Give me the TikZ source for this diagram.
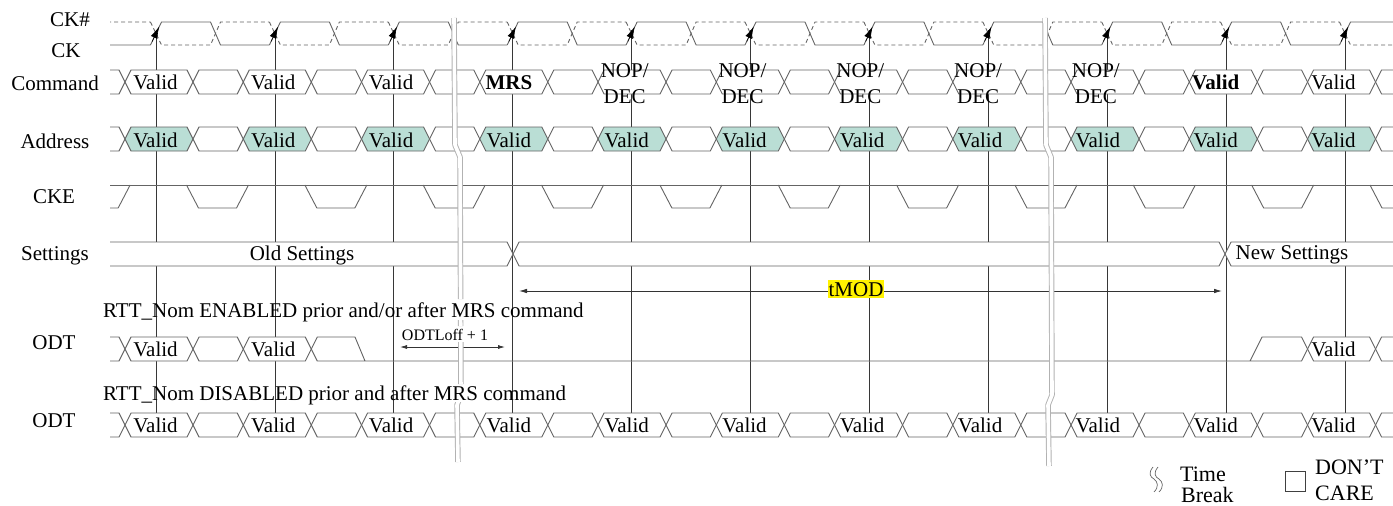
\documentclass[tikz,border=0pt]{standalone}
\usepackage{fontspec}
\setmainfont{Liberation Serif}
\usetikzlibrary{arrows.meta}
\definecolor{tealfill}{RGB}{186,222,213}
\definecolor{busline}{RGB}{100,100,100}
\definecolor{vline}{RGB}{55,55,55}
\tikzset{
  bsblank/.style={draw=busline, fill=white, line width=0.9pt, line join=round},
  bsvalid/.style={draw=busline, fill=white, line width=0.9pt, line join=round},
  bsteal/.style={draw=busline, fill=tealfill, line width=0.9pt, line join=round},
  busl/.style={draw=busline, line width=0.9pt, line join=round},
  vl/.style={draw=vline, line width=0.8pt},
  ckl/.style={draw=busline, line width=0.9pt, line join=round},
  ckd/.style={draw=busline, line width=0.9pt, dash pattern=on 4pt off 3pt},
  lbl/.style={inner sep=0pt, font=\fontsize{21}{25}\selectfont},
  sml/.style={inner sep=0pt, font=\fontsize{16}{19}\selectfont},
  leg/.style={inner sep=0pt, font=\fontsize{22}{26}\selectfont, anchor=base west},
  brk/.style={line join=round},
  arr/.style={draw=black!80, line width=0.8pt}
}
\newcommand\bseg[5]{%
  \pgfmathsetmacro\ym{(#3+#4)/2}%
  \path[#5] (#1,\ym) -- ({#1+6},#3) -- ({#2-6},#3) -- (#2,\ym) -- ({#2-6},#4) -- ({#1+6},#4) -- cycle;}
\newcommand\busrow[3]{%
  \bseg{60}{125}{#1}{#2}{bsblank}%
  \foreach \k in {0,...,10}{%
    \pgfmathsetmacro\c{156+118.9*\k}%
    \pgfmathsetmacro\ta{\c-31-0.65*\k}%
    \pgfmathsetmacro\tb{\c+37-0.65*\k}%
    \pgfmathsetmacro\tn{\c+118.9-31-0.65*(\k+1)}%
    \bseg{\ta}{\tb}{#1}{#2}{#3}%
    \bseg{\tb}{\tn}{#1}{#2}{bsblank}%
  }}
\begin{document}
\begin{tikzpicture}[x=1pt,y=-1pt]
\useasboundingbox (0,0) rectangle (1393,506);

% vertical clock-edge lines
\foreach \k in {0,...,10}{
  \pgfmathsetmacro\c{156+118.9*\k}
  \coordinate (v\k) at (\c,30);
  \draw[vl] (v\k) -- ++(0,390);
}

% clock
\begin{scope}
\clip (110,0) rectangle (1393,60);
\foreach \k in {-1,...,11}{
  \pgfmathsetmacro\c{156+118.9*\k}
  \draw[ckl] ({\c-5.5},45) -- ({\c+5.5},22) -- ({\c+54.5},22) -- ({\c+64.5},45) -- ({\c+113.4},45);
  \draw[ckd] ({\c-5.5},22) -- ({\c+5.5},45) -- ({\c+54.5},45) -- ({\c+64.5},22) -- ({\c+113.4},22);
}
\end{scope}
\foreach \k in {0,...,10}{
  \pgfmathsetmacro\c{156+118.9*\k}
  \draw[black, line width=0.6pt, -{Latex[length=12pt,width=7pt]}] ({\c-3.8},41.5) -- ({\c+3.2},26.5);
}

% buses
\begin{scope}
\clip (110,0) rectangle (1393,506);
\busrow{70}{94}{bsvalid}
\busrow{127}{151}{bsteal}
\busrow{413}{437}{bsvalid}
% CKE
\draw[busl] (110,185) -- (1393,185);
\foreach \k in {-1,...,10}{
  \pgfmathsetmacro\m{156+118.9*\k+61.5-0.55*\k}
  \draw[busl] ({\m-31},185) -- ({\m-19},208) -- ({\m+19},208) -- ({\m+31},185);
}
% Settings
\bseg{98}{513}{242}{266}{bsblank}
\bseg{513}{1225}{242}{266}{bsblank}
\bseg{1225}{1470}{242}{266}{bsblank}
% ODT (enabled)
\bseg{60}{125}{337}{361}{bsblank}
\bseg{125}{193}{337}{361}{bsvalid}
\bseg{193}{243.25}{337}{361}{bsblank}
\bseg{243.25}{311.25}{337}{361}{bsvalid}
\path[bsblank] (311.25,349) -- (317.25,337) -- (355,337) -- (365,361) -- (1250,361) -- (1262,337) -- (1301.5,337) -- (1307.5,349) -- (1301.5,361) -- (317.25,361) -- cycle;
\bseg{1307.5}{1375.5}{337}{361}{bsvalid}
\bseg{1375.5}{1460}{337}{361}{bsblank}
\end{scope}

% tMOD and ODTLoff arrows
\coordinate (tm1) at (519,291);
\coordinate (tm2) at (1222,291);
\draw[arr, {Latex[length=8pt,width=4.5pt]}-{Latex[length=8pt,width=4.5pt]}] (tm1) -- (tm2);
\node[lbl, fill=yellow, inner xsep=1pt, inner ysep=2pt, anchor=base] (tmod) at (856,296) {tMOD};
\coordinate (od1) at (400,347);
\coordinate (od2) at (505,347);
\draw[arr, {Latex[length=7pt,width=4pt]}-{Latex[length=7pt,width=4pt]}] (od1) -- (od2);
\node[sml, anchor=base] (odtl) at (445,340) {ODTLoff + 1};

% row labels
\node[lbl, anchor=base] (lckn) at (70,27) {CK\#};
\node[lbl, anchor=base] (lck) at (66,57) {CK};
\node[lbl, anchor=base] (lcmd) at (55,90) {Command};
\node[lbl, anchor=base] (ladr) at (55,148) {Address};
\node[lbl, anchor=base] (lcke) at (54,203) {CKE};
\node[lbl, anchor=base] (lset) at (55,260) {Settings};
\node[lbl, anchor=base] (lodt1) at (54,349) {ODT};
\node[lbl, anchor=base] (lodt2) at (54,427) {ODT};

% command labels
\foreach \k/\t in {0/Valid,1/Valid,2/Valid,3/\textbf{MRS},9/\textbf{Valid},10/Valid}{
  \pgfmathsetmacro\lx{156+118.9*\k-0.5-1.1*\k}
  \node[lbl, anchor=base] (cmd\k) at (\lx,89) {\t};
}
\foreach \k in {4,...,8}{
  \pgfmathsetmacro\lx{156+118.9*\k-2.5-1.1*\k}
  \node[lbl, anchor=base] (nop\k) at (\lx,77) {NOP/};
  \node[lbl, anchor=base] (dec\k) at (\lx,103) {DEC};
}
% address and ODT labels
\foreach \k in {0,...,10}{
  \pgfmathsetmacro\lx{156+118.9*\k-0.5-1.1*\k}
  \node[lbl, anchor=base] (adr\k) at (\lx,147) {Valid};
  \node[lbl, anchor=base] (odb\k) at (\lx,432) {Valid};
}
\foreach \k in {0,1,10}{
  \pgfmathsetmacro\lx{156+118.9*\k-0.5-1.1*\k}
  \node[lbl, anchor=base] (oda\k) at (\lx,356) {Valid};
}
\node[lbl, anchor=base] (old) at (302,260) {Old Settings};
\node[lbl, anchor=base] (new) at (1292,259) {New Settings};
\node[lbl, anchor=base west] (rtt1) at (103,317) {RTT\_Nom ENABLED prior and/or after MRS command};
\node[lbl, anchor=base west] (rtt2) at (103,400) {RTT\_Nom DISABLED prior and after MRS command};

% time breaks
\def\brkA{(454,18) -- (455,145) -- (460,157) -- (461,395) -- (457,405) -- (458,462)}
\def\brkB{(1045,18) -- (1046,145) -- (1051,157) -- (1052,395) -- (1048,405) -- (1049,466)}
\begin{scope}
\clip (400,0) rectangle (520,299) (400,320) rectangle (520,326) (400,342) rectangle (520,384) (400,402) rectangle (520,470);
\draw[brk, line width=5.5pt, black!30] \brkA;
\draw[brk, line width=3.6pt, white] \brkA;
\end{scope}
\draw[brk, line width=5.5pt, black!30] \brkB;
\draw[brk, line width=3.6pt, white] \brkB;

% legend
\foreach \dx in {0,5}{
  \draw[black!60, line width=0.7pt] ({1153+\dx},467) .. controls ({1148+\dx},473) and ({1150+\dx},477) .. ({1154+\dx},479) .. controls ({1158+\dx},482) and ({1159+\dx},487) .. ({1154+\dx},492);
}
\node[leg] (ltime) at (1180,481) {Time};
\node[leg] (lbreak) at (1181,502) {Break};
\draw[black!75, line width=0.8pt] (1285,471) rectangle (1305,491);
\node[leg] (ldont) at (1315,474) {DON’T};
\node[leg] (lcare) at (1315,500) {CARE};
\end{tikzpicture}
\end{document}
